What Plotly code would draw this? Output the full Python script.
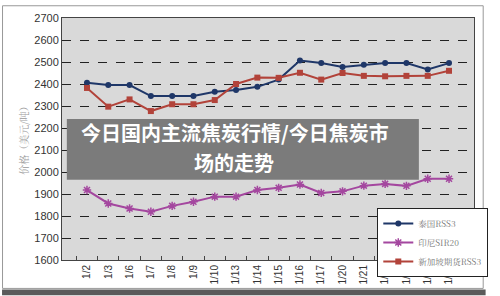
import plotly.graph_objects as go

dates = ["1/2", "1/3", "1/6", "1/7", "1/8", "1/9", "1/10", "1/13", "1/14",
         "1/15", "1/16", "1/17", "1/20", "1/21", "1/22", "1/23", "1/24", "1/27"]
thai_rss3 = [2406, 2395, 2395, 2345, 2345, 2345, 2365, 2373, 2387,
             2420, 2507, 2495, 2477, 2487, 2495, 2495, 2466, 2495]
indo_sir20 = [1918, 1857, 1834, 1819, 1846, 1865, 1888, 1888, 1918,
              1928, 1943, 1905, 1912, 1938, 1946, 1937, 1969, 1969]
sg_rss3 = [2382, 2297, 2330, 2277, 2308, 2308, 2327, 2400, 2429,
           2428, 2451, 2420, 2450, 2437, 2435, 2437, 2437, 2460]
y_ticks = [1600, 1700, 1800, 1900, 2000, 2100, 2200, 2300, 2400, 2500, 2600, 2700]

W, H = 500, 296
L, R, T, B = 62, 12, 13, 36
PW, PH = W - L - R, H - T - B

def px(x):
    return (x - L) / PW

def py(y):
    return (H - B - y) / PH

fig = go.Figure()
fig.add_trace(go.Scatter(x=dates, y=thai_rss3, name="泰国RSS3", mode="lines+markers",
                         line=dict(color="#1f3768", width=2),
                         marker=dict(symbol="circle", size=6, color="#1f3768")))
fig.add_trace(go.Scatter(x=dates, y=indo_sir20, name="印尼SIR20", mode="lines+markers",
                         line=dict(color="#a4479f", width=2),
                         marker=dict(symbol="asterisk", size=7, color="#a4479f",
                                     line=dict(color="#a4479f", width=1.5))))
fig.add_trace(go.Scatter(x=dates, y=sg_rss3, name="新加坡期货RSS3", mode="lines+markers",
                         line=dict(color="#b2433a", width=2),
                         marker=dict(symbol="square", size=6, color="#b2433a")))

fig.update_layout(
    width=W, height=H,
    margin=dict(l=L, r=R, t=T, b=B),
    paper_bgcolor="white",
    plot_bgcolor="#d9d9d9",
    font=dict(family="Liberation Sans, Noto Sans CJK SC", color="#333"),
    showlegend=True,
    legend=dict(x=px(388), y=py(207), xanchor="left", yanchor="top",
                bgcolor="white", bordercolor="#222", borderwidth=1,
                font=dict(size=8.5, color="#777", family="Noto Serif CJK SC, Noto Sans CJK SC"),
                itemwidth=30, tracegroupgap=0),
    xaxis=dict(type="category", tickangle=-90, tickfont=dict(size=10, color="#333"),
               ticks="inside", tickson="boundaries", ticklen=4, tickcolor="#444",
               showline=True, linecolor="#444", linewidth=1, mirror=True,
               showgrid=False),
    yaxis=dict(range=[1600, 2700], tickvals=y_ticks, tickfont=dict(size=11, color="#333"),
               showline=True, linecolor="#444", linewidth=1, mirror=True,
               showgrid=True, gridcolor="#222", griddash="dash", gridwidth=1,
               ticks="", zeroline=False),
)

fig.update_yaxes(layer="below traces")

shapes = [
    dict(type="rect", xref="paper", yref="paper", x0=px(67), x1=px(431), y0=py(178), y1=py(116),
         fillcolor="#7b7b7b", line=dict(width=0), layer="above"),
    dict(type="rect", xref="paper", yref="paper", x0=px(0.5), x1=px(497.5), y0=py(289), y1=py(0.5),
         fillcolor="rgba(0,0,0,0)", line=dict(color="#999", width=1), layer="above"),
    dict(type="rect", xref="paper", yref="paper", x0=px(0), x1=px(500), y0=py(296), y1=py(290),
         fillcolor="#5a5a5a", line=dict(width=0), layer="above"),
]
fig.update_layout(shapes=shapes)

title_font = dict(size=20, color="white", family="Noto Sans CJK SC")
fig.add_annotation(x=px(241), y=py(130), xref="paper", yref="paper",
                   text="<b>今日国内主流焦炭行情/今日焦炭市</b>",
                   showarrow=False, font=title_font, borderpad=0)
fig.add_annotation(x=px(240), y=py(160), xref="paper", yref="paper",
                   text="<b>场的走势</b>",
                   showarrow=False, font=title_font, borderpad=0)
fig.add_annotation(x=px(12), y=py(135), xref="paper", yref="paper",
                   text="价格（美元/吨）", textangle=-90, showarrow=False,
                   font=dict(size=10, color="#9a9a9a", family="Noto Serif CJK SC, Noto Sans CJK SC"))

fig.write_html("out.html")
